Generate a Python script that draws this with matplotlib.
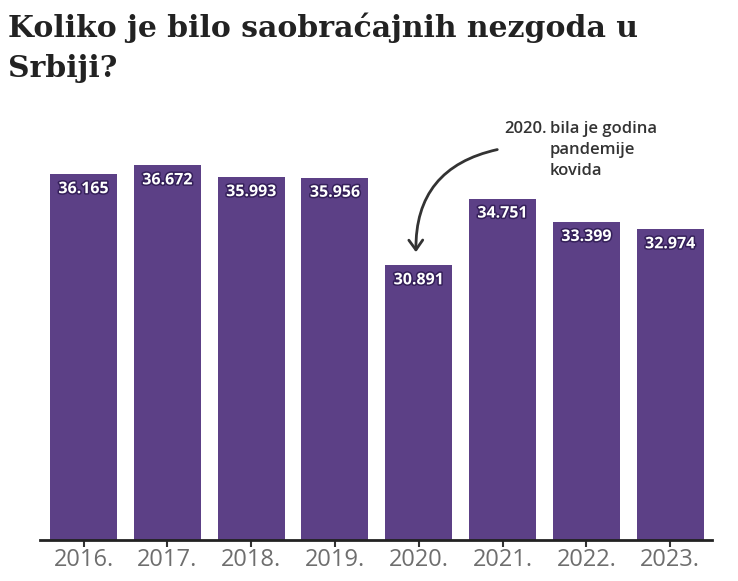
import matplotlib
matplotlib.use("Agg")
import matplotlib.pyplot as plt
import matplotlib.patheffects as pe

years = ["2016.", "2017.", "2018.", "2019.", "2020.", "2021.", "2022.", "2023."]
values = [36165, 36672, 35993, 35956, 30891, 34751, 33399, 32974]
value_labels = ["36.165", "36.672", "35.993", "35.956", "30.891", "34.751", "33.399", "32.974"]

W, H = 738, 581
fig = plt.figure(figsize=(W / 100, H / 100), dpi=100)

def fx(px):
    return px / W

def fy(py):
    return 1 - py / H

ax_left, ax_right, ax_top, ax_bottom = 40, 712, 120, 540
ax = fig.add_axes([fx(ax_left), fy(ax_bottom), fx(ax_right - ax_left), (ax_bottom - ax_top) / H])

bar_color = "#5c4086"
x = list(range(len(years)))
bars = ax.bar(x, values, width=0.8, color=bar_color, zorder=2)
ax.set_xlim(-0.52, 7.5)
ax.set_ylim(15000, 39300)

for xi, v, lab in zip(x, values, value_labels):
    ax.annotate(lab, xy=(xi, v), xytext=(0, -5), textcoords="offset points",
                ha="center", va="top", color="white", fontsize=11.5,
                fontweight="bold", family="Open Sans",
                path_effects=[pe.withStroke(linewidth=2.2, foreground="#35205a")])

for s in ["top", "right", "left"]:
    ax.spines[s].set_visible(False)
ax.spines["bottom"].set_color("#222222")
ax.spines["bottom"].set_linewidth(2)
ax.set_yticks([])
ax.set_xticks(x)
ax.set_xticklabels(years, fontsize=17, color="#6e6e6e", family="Open Sans")
ax.tick_params(axis="x", length=5, width=1.5, color="#333333", pad=1)

# Title
title_lines = ["Koliko je bilo saobraćajnih nezgoda u", "Srbiji?"]
for line, base in zip(title_lines, [37, 77]):
    fig.text(fx(8), fy(base), line, ha="left", va="baseline", fontsize=21.5,
             fontweight="bold", family="DejaVu Serif", color="#222222")

# Annotation
ann_color = "#333333"
fig.text(fx(547), fy(133), "2020.", ha="right", va="baseline", fontsize=12,
         fontweight="semibold", family="Open Sans", color=ann_color)
for line, base in zip(["bila je godina", "pandemije", "kovida"], [133, 154, 175]):
    fig.text(fx(550), fy(base), line, ha="left", va="baseline",
             fontsize=12, fontweight="semibold", family="Open Sans", color=ann_color)

fig.patches.append(matplotlib.patches.FancyArrowPatch(
    (500, H - 149), (416, H - 255), transform=None,
    connectionstyle="arc3,rad=0.42",
    arrowstyle="->,head_length=7,head_width=5",
    color=ann_color, linewidth=2, mutation_scale=1))

fig.savefig("out.png", dpi=100)
